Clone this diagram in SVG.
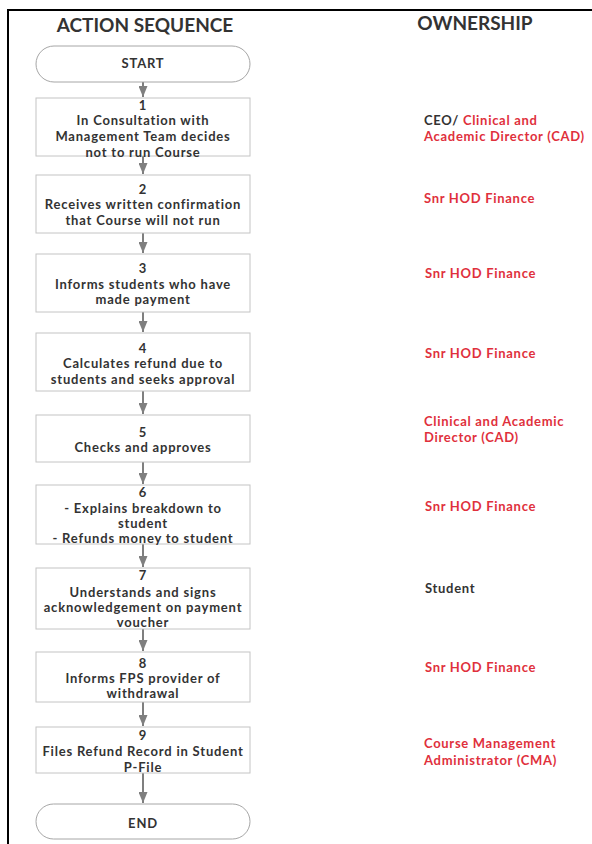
<svg xmlns="http://www.w3.org/2000/svg" width="592" height="844" viewBox="0 0 592 844">
<defs>
<style>
.bg{fill:#ffffff}
.frame{stroke:#000;stroke-width:2;fill:none}
.box{fill:#fff;stroke:#c4c4c4;stroke-width:1}
.term{fill:#fff;stroke:#a6a6a6;stroke-width:1}
.t{font-family:Lato,"Open Sans","Liberation Sans",sans-serif;font-weight:bold;font-size:13px;letter-spacing:0.8px;fill:#333;text-anchor:middle}
.h{font-family:Lato,"Open Sans","Liberation Sans",sans-serif;font-weight:bold;fill:#333;text-anchor:middle}
.o{font-family:Lato,"Open Sans","Liberation Sans",sans-serif;font-weight:bold;font-size:13px;letter-spacing:0.7px;fill:#e0303c}
.od{fill:#333}
.conn{stroke:#7f7f7f;stroke-width:2;fill:none}
</style>
<marker id="ah" markerWidth="12" markerHeight="9" refX="11" refY="4.5" orient="auto" markerUnits="userSpaceOnUse">
<path d="M0,0 L11,4.5 L0,9 Z" fill="#7f7f7f"/>
</marker>
</defs>
<rect class="bg" x="0" y="0" width="592" height="844"/>
<path class="frame" d="M8,844 L8,10 L592,10"/>
<text class="h" x="145" y="32" font-size="19">ACTION SEQUENCE</text>
<text class="h" x="475" y="30" font-size="19">OWNERSHIP</text>

<g id="connectors">
<line class="conn" x1="143" y1="82" x2="143" y2="97" marker-end="url(#ah)"/>
<line class="conn" x1="143" y1="156" x2="143" y2="174" marker-end="url(#ah)"/>
<line class="conn" x1="143" y1="233" x2="143" y2="253" marker-end="url(#ah)"/>
<line class="conn" x1="143" y1="312" x2="143" y2="332" marker-end="url(#ah)"/>
<line class="conn" x1="143" y1="391" x2="143" y2="414" marker-end="url(#ah)"/>
<line class="conn" x1="143" y1="462" x2="143" y2="484" marker-end="url(#ah)"/>
<line class="conn" x1="143" y1="544" x2="143" y2="567" marker-end="url(#ah)"/>
<line class="conn" x1="143" y1="629" x2="143" y2="651" marker-end="url(#ah)"/>
<line class="conn" x1="143" y1="702" x2="143" y2="726" marker-end="url(#ah)"/>
<line class="conn" x1="143" y1="773" x2="143" y2="803" marker-end="url(#ah)"/>
</g>

<g id="start">
<rect class="term" x="36" y="46" width="214" height="36" rx="18" ry="18"/>
<text class="t" x="143" y="68">START</text>
</g>
<g id="step1">
<rect class="box" x="36" y="98" width="214" height="58"/>
<text class="t" x="143" y="110">1</text>
<text class="t" x="143" y="125">In Consultation with</text>
<text class="t" x="143" y="141">Management Team decides</text>
<text class="t" x="143" y="157">not to run Course</text>
</g>
<g id="step2">
<rect class="box" x="36" y="175" width="214" height="58"/>
<text class="t" x="143" y="194">2</text>
<text class="t" x="143" y="209">Receives written confirmation</text>
<text class="t" x="143" y="225">that Course will not run</text>
</g>
<g id="step3">
<rect class="box" x="36" y="254" width="214" height="58"/>
<text class="t" x="143" y="273">3</text>
<text class="t" x="143" y="289">Informs students who have</text>
<text class="t" x="143" y="304">made payment</text>
</g>
<g id="step4">
<rect class="box" x="36" y="333" width="214" height="58"/>
<text class="t" x="143" y="353">4</text>
<text class="t" x="143" y="368">Calculates refund due to</text>
<text class="t" x="143" y="384">students and seeks approval</text>
</g>
<g id="step5">
<rect class="box" x="36" y="415" width="214" height="47"/>
<text class="t" x="143" y="437">5</text>
<text class="t" x="143" y="452">Checks and approves</text>
</g>
<g id="step6">
<rect class="box" x="36" y="485" width="214" height="59"/>
<text class="t" x="143" y="497">6</text>
<text class="t" x="143" y="513">- Explains breakdown to</text>
<text class="t" x="143" y="528">student</text>
<text class="t" x="143" y="543">- Refunds money to student</text>
</g>
<g id="step7">
<rect class="box" x="36" y="568" width="214" height="61"/>
<text class="t" x="143" y="580">7</text>
<text class="t" x="143" y="597">Understands and signs</text>
<text class="t" x="143" y="612">acknowledgement on payment</text>
<text class="t" x="143" y="627">voucher</text>
</g>
<g id="step8">
<rect class="box" x="36" y="652" width="214" height="50"/>
<text class="t" x="143" y="668">8</text>
<text class="t" x="143" y="683">Informs FPS provider of</text>
<text class="t" x="143" y="698">withdrawal</text>
</g>
<g id="step9">
<rect class="box" x="36" y="727" width="214" height="46"/>
<text class="t" x="143" y="740">9</text>
<text class="t" x="143" y="756">Files Refund Record in Student</text>
<text class="t" x="143" y="772">P-File</text>
</g>
<g id="end">
<rect class="term" x="36" y="804" width="214" height="35" rx="17.5" ry="17.5"/>
<text class="t" x="143" y="828">END</text>
</g>

<g id="owners">
<text class="o" x="424" y="125"><tspan class="od">CEO/ </tspan>Clinical and</text>
<text class="o" x="424" y="141">Academic Director (CAD)</text>
<text class="o" x="424" y="203">Snr HOD Finance</text>
<text class="o" x="425" y="278">Snr HOD Finance</text>
<text class="o" x="425" y="358">Snr HOD Finance</text>
<text class="o" x="424" y="426">Clinical and Academic</text>
<text class="o" x="424" y="442">Director (CAD)</text>
<text class="o" x="425" y="511">Snr HOD Finance</text>
<text class="o od" x="425" y="593">Student</text>
<text class="o" x="425" y="672">Snr HOD Finance</text>
<text class="o" x="424" y="748">Course Management</text>
<text class="o" x="424" y="765">Administrator (CMA)</text>
</g>
</svg>
